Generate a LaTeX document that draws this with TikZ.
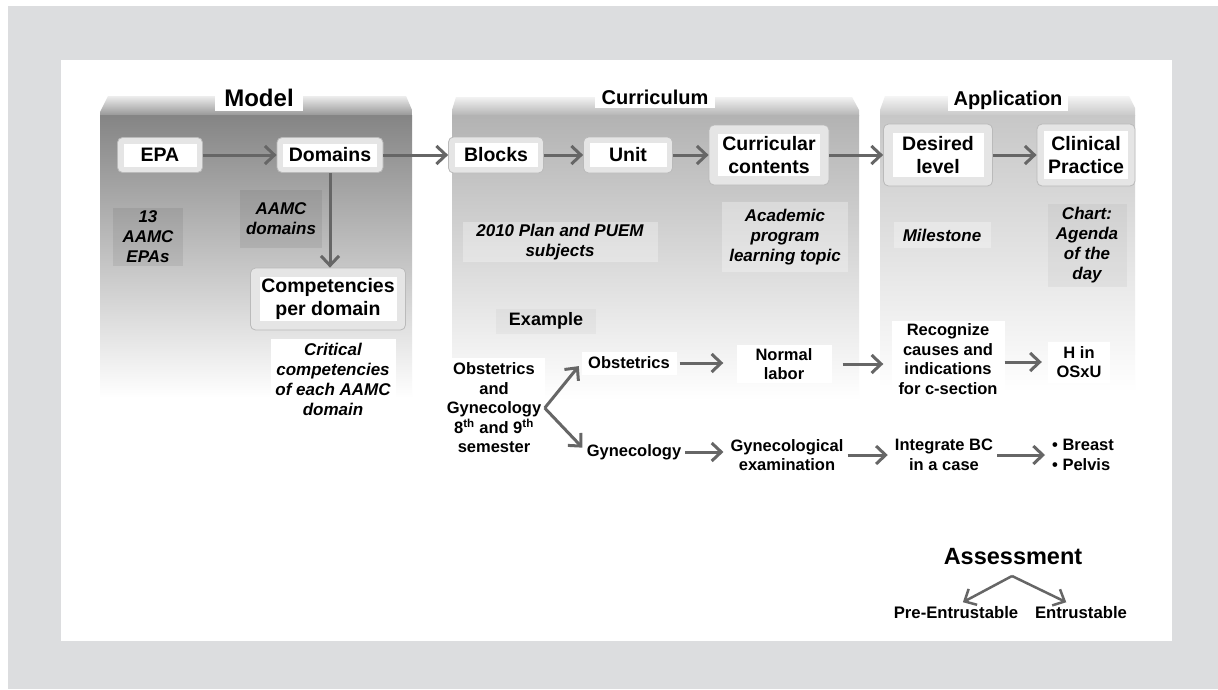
\documentclass[tikz,border=0pt]{standalone}
\usepackage{fontspec}
\setmainfont{Liberation Sans}
\usetikzlibrary{arrows.meta,calc}
\definecolor{outergray}{RGB}{220,221,223}
\begin{document}
\begin{tikzpicture}[x=1pt,y=-1pt,
  fr/.style={draw=black!27, fill=black!10, rounded corners=5pt, line width=0.8pt,
    align=center, inner sep=0pt, font=\bfseries\fontsize{19.5}{22.5}\selectfont},
  whitein/.style={path picture={\fill[white,sharp corners]
      ($(path picture bounding box.north west)+(#1,-#1)$) rectangle
      ($(path picture bounding box.south east)+(-#1,#1)$);}},
  arr/.style={draw=black!60, line width=3pt, -{Straight Barb[length=9.5pt,width=18pt]}},
  exarr/.style={arr, shorten <=4pt, shorten >=7pt},
  lab/.style={font=\bfseries\itshape\fontsize{17}{20}\selectfont, align=center, inner sep=0pt, text opacity=1},
  darklab/.style={lab, fill=black, fill opacity=0.07},
  lightlab/.style={lab, fill=white, fill opacity=0.3},
  ttl/.style={fill=white, inner sep=0pt, font=\bfseries\fontsize{20}{24}\selectfont},
  ex/.style={font=\bfseries\fontsize{16.5}{19.5}\selectfont, align=center, inner sep=0pt}
]
\useasboundingbox (0,0) rectangle (1218,689);
\fill[white] (0,0) rectangle (1218,689);
\fill[outergray] (8,6) rectangle (1218,689);
\fill[white] (61,60) rectangle (1172,641);

% panels
\shade[top color=black!7, bottom color=black!42] (100,116) -- (100,112) -- (108,96) -- (406,96) -- (412,110) -- (412,116) -- cycle;
\shade[top color=black!48, bottom color=white] (100,115) rectangle (412,398);
\shade[top color=black!5, bottom color=black!30] (452,116) -- (452,110) -- (456,97) -- (852,97) -- (859,110) -- (859,116) -- cycle;
\shade[top color=black!30, bottom color=white] (452,115) rectangle (859,400);
\shade[top color=black!4, bottom color=black!22] (880,116) -- (880,110) -- (885,96) -- (1129,96) -- (1135,108) -- (1135,116) -- cycle;
\shade[top color=black!22, bottom color=white] (880,115) rectangle (1135,392);

% titles
\node[ttl, font=\bfseries\fontsize{24}{28}\selectfont, minimum width=88pt, minimum height=26pt] (tmodel) at (259,98) {Model};
\node[ttl, minimum width=120pt, minimum height=21pt] (tcurr) at (655,97) {Curriculum};
\node[ttl, minimum width=120pt, minimum height=22pt] (tapp) at (1008,100) {Application};

% main boxes
\node[fr, whitein=6pt, minimum width=85pt, minimum height=35pt] (epa) at (160,155) {EPA};
\node[fr, whitein=6pt, minimum width=106pt, minimum height=35pt] (dom) at (330,155) {Domains};
\node[fr, whitein=9pt, minimum width=155pt, minimum height=62pt] (comp) at (328,299) {Competencies\\per domain};
\node[fr, whitein=6pt, minimum width=95pt, minimum height=36pt] (blocks) at (496,155) {Blocks};
\node[fr, whitein=6pt, minimum width=89pt, minimum height=36pt] (unit) at (628,155) {Unit};
\node[fr, whitein=9pt, minimum width=120pt, minimum height=60pt] (curr) at (769,155) {Curricular\\contents};
\node[fr, whitein=9pt, minimum width=109pt, minimum height=62pt] (des) at (938,155) {Desired\\level};
\node[fr, whitein=7pt, minimum width=98pt, minimum height=62pt] (clin) at (1086,155) {Clinical\\Practice};

\draw[arr] (epa) -- (dom);
\draw[arr] (dom.south) -- (dom.south |- comp.north);
\draw[arr] (dom) -- (blocks);
\draw[arr] (blocks) -- (unit);
\draw[arr] (unit) -- (curr);
\draw[arr] (curr) -- (des);
\draw[arr] (des) -- (clin);

% italic labels
\node[darklab, minimum width=70pt, minimum height=58pt] (epas) at (148,237) {13\\AAMC\\EPAs};
\node[darklab, minimum width=82pt, minimum height=58pt] (aamcd) at (281,219) {AAMC\\domains};
\node[lab, fill=white, minimum width=125pt, minimum height=80pt] (crit) at (333,379) {Critical\\competencies\\of each AAMC\\domain};
\node[lightlab, minimum width=195pt, minimum height=40pt] (plan) at (560,242) {2010 Plan and PUEM\\subjects};
\node[lightlab, minimum width=126pt, minimum height=70pt] (acad) at (785,237) {Academic\\program\\learning topic};
\node[lightlab, minimum width=97pt, minimum height=26pt] (mile) at (942,235) {Milestone};
\node[darklab, fill opacity=0.04, minimum width=79pt, minimum height=83pt] (chart) at (1087,245) {Chart:\\Agenda\\of the\\day};

% example
\node[ex, font=\bfseries\fontsize{18}{22}\selectfont, fill=black, fill opacity=0.03, text opacity=1, minimum width=100pt, minimum height=25pt] (example) at (546,321) {Example};
\node[ex, fill=white, minimum width=101pt, minimum height=100pt] (og) at (494,408) {Obstetrics\\and\\Gynecology\\8\textsuperscript{th} and 9\textsuperscript{th}\\semester};
\node[ex, fill=white, minimum width=95pt, minimum height=23pt] (obs) at (629,363) {Obstetrics};
\node[ex, fill=white, minimum width=95pt, minimum height=38pt] (nl) at (784,364) {Normal\\labor};
\node[ex, fill=white, minimum width=113pt, minimum height=77pt] (rc) at (948,359) {Recognize\\causes and\\indications\\for c-section};
\node[ex, fill=white, minimum width=62pt, minimum height=41pt] (h) at (1079,362) {H in\\OSxU};
\node[ex] (gyn) at (634,452) {Gynecology};
\node[ex] (ge) at (787,455) {Gynecological\\examination};
\node[ex] (ibc) at (944,455) {Integrate BC\\in a case};
\node[ex, anchor=west, align=left] (bp) at (1052,455) {• Breast\\• Pelvis};

\draw[arr, shorten >=4pt] (og.east) -- (obs.west);
\draw[arr, shorten >=6pt] (og.east) -- (gyn.west);
\draw[arr, shorten <=3pt, shorten >=13pt] (obs.east) -- (obs.east -| nl.west);
\draw[arr, shorten <=11pt, shorten >=8pt] (nl.east) -- (nl.east -| rc.west);
\draw[arr, shorten >=6pt] (rc.east |- h.west) -- (h.west);
\draw[exarr] (gyn.east) -- (gyn.east -| ge.west);
\draw[exarr] (ge.east |- ibc.west) -- (ibc.west);
\draw[exarr] (ibc.east) -- (ibc.east -| bp.west);

% assessment
\node[ex, font=\bfseries\fontsize{23.5}{27}\selectfont] (assess) at (1013,557) {Assessment};
\node[ex, font=\bfseries\fontsize{16.7}{20}\selectfont] (pre) at (956,613) {Pre-Entrustable};
\node[ex, font=\bfseries\fontsize{16.7}{20}\selectfont] (ent) at (1081,613) {Entrustable};
\coordinate (apex) at (1012,576);
\draw[arr, line width=2.5pt, shorten >=1pt] (apex) -- ($(pre.north)+(6,-4)$);
\draw[arr, line width=2.5pt, shorten >=1pt] (apex) -- ($(ent.north)!0.3!(ent.north west)+(0,-4)$);
\end{tikzpicture}
\end{document}
